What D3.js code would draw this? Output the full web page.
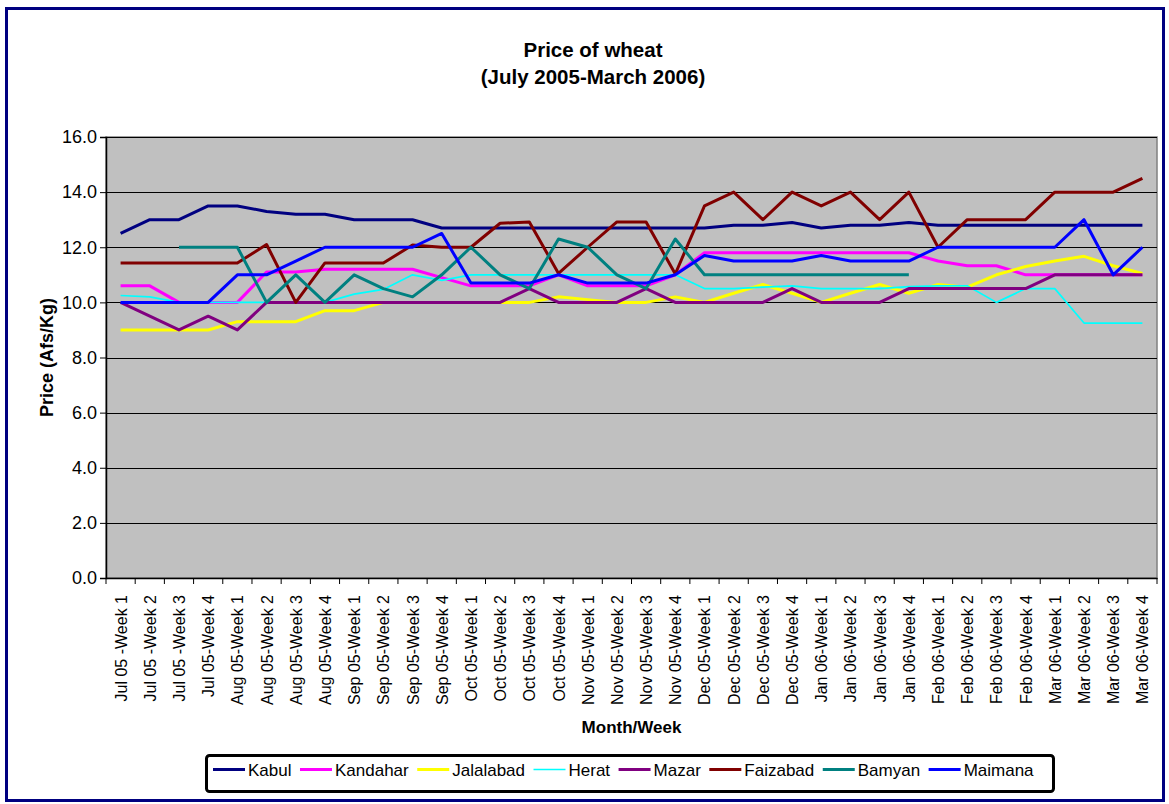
<!DOCTYPE html>
<html>
<head>
<meta charset="utf-8">
<script src="https://cdn.jsdelivr.net/npm/d3@7"></script>
<style>
  body { margin: 0; background: #fff; }
  svg { display: block; font-family: "Liberation Sans", Arial, sans-serif; }
</style>
</head>
<body>
<svg id="chart" width="1169" height="804"></svg>
<script>
// weeks on the x axis
var weeks = [
  "Jul 05 -Week 1", "Jul 05 -Week 2", "Jul 05 -Week 3", "Jul 05-Week 4",
  "Aug 05-Week 1", "Aug 05-Week 2", "Aug 05-Week 3", "Aug 05-Week 4",
  "Sep 05-Week 1", "Sep 05-Week 2", "Sep 05-Week 3", "Sep 05-Week 4",
  "Oct 05-Week 1", "Oct 05-Week 2", "Oct 05-Week 3", "Oct 05-Week 4",
  "Nov 05-Week 1", "Nov 05-Week 2", "Nov 05-Week 3", "Nov 05-Week 4",
  "Dec 05-Week 1", "Dec 05-Week 2", "Dec 05-Week 3", "Dec 05-Week 4",
  "Jan 06-Week 1", "Jan 06-Week 2", "Jan 06-Week 3", "Jan 06-Week 4",
  "Feb 06-Week 1", "Feb 06-Week 2", "Feb 06-Week 3", "Feb 06-Week 4",
  "Mar 06-Week 1", "Mar 06-Week 2", "Mar 06-Week 3", "Mar 06-Week 4"
];

// prices per city (Afs/Kg)
var kabul = [12.5, 13, 13, 13.5, 13.5, 13.3, 13.2, 13.2, 13, 13, 13, 12.7,
  12.7, 12.7, 12.7, 12.7, 12.7, 12.7, 12.7, 12.7, 12.7, 12.8, 12.8, 12.9,
  12.7, 12.8, 12.8, 12.9, 12.8, 12.8, 12.8, 12.8, 12.8, 12.8, 12.8, 12.8];
var kandahar = [10.6, 10.6, 10, 10, 10, 11.1, 11.1, 11.2, 11.2, 11.2, 11.2, 10.9,
  10.6, 10.6, 10.6, 11, 10.6, 10.6, 10.6, 11, 11.8, 11.8, 11.8, 11.8,
  11.8, 11.8, 11.8, 11.8, 11.5, 11.33, 11.33, 11, 11, 11, 11, 11];
var jalalabad = [9, 9, 9, 9, 9.3, 9.3, 9.3, 9.7, 9.7, 10, 10, 10,
  10, 10, 10, 10.2, 10.1, 10, 10, 10.2, 10, 10.33, 10.65, 10.33,
  10, 10.33, 10.65, 10.33, 10.65, 10.55, 11, 11.3, 11.5, 11.67, 11.33, 11.05];
var herat = [10.25, 10.2, 10, 10, 10, 10, 10, 10, 10.3, 10.47, 11, 10.8,
  11, 11, 11, 11, 11, 11, 11, 11, 10.5, 10.5, 10.55, 10.6,
  10.5, 10.5, 10.5, 10.57, 10.6, 10.6, 10, 10.5, 10.5, 9.25, 9.25, 9.25];
var mazar = [10, 9.5, 9, 9.5, 9, 10, 10, 10, 10, 10, 10, 10,
  10, 10, 10.5, 10, 10, 10, 10.5, 10, 10, 10, 10, 10.5,
  10, 10, 10, 10.5, 10.5, 10.5, 10.5, 10.5, 11, 11, 11, 11];
var faizabad = [11.43, 11.43, 11.43, 11.43, 11.43, 12.1, 10, 11.43, 11.43, 11.43, 12.08, 12,
  12, 12.87, 12.92, 11.05, 12, 12.92, 12.92, 11.03, 13.5, 14, 13, 14,
  13.5, 14, 13, 14, 12, 13, 13, 13, 14, 14, 14, 14.5];
var bamyan = [null, null, 12, 12, 12, 10, 11, 10, 11, 10.5, 10.2, 11,
  12, 11, 10.5, 12.3, 12, 11, 10.5, 12.3, 11, 11, 11, 11,
  11, 11, 11, 11, null, null, null, null, null, null, null, null];
var maimana = [10, 10, 10, 10, 11, 11, 11.5, 12, 12, 12, 12, 12.5,
  10.7, 10.7, 10.7, 11, 10.7, 10.7, 10.7, 11, 11.7, 11.5, 11.5, 11.5,
  11.7, 11.5, 11.5, 11.5, 12, 12, 12, 12, 12, 13, 11, 12];

var cities = ["Kabul", "Kandahar", "Jalalabad", "Herat", "Mazar", "Faizabad", "Bamyan", "Maimana"];
var cityValues = [kabul, kandahar, jalalabad, herat, mazar, faizabad, bamyan, maimana];
var cityColors = ["#000080", "#FF00FF", "#FFFF00", "#00FFFF", "#800080", "#800000", "#008080", "#0000FF"];
var yTicks = [0, 2, 4, 6, 8, 10, 12, 14, 16];

var svg = d3.select("#chart");
var plot = {left: 106, right: 1157, top: 137, bottom: 578};

// outer frame
svg.append("rect")
  .attr("x", 6.5).attr("y", 8.5)
  .attr("width", 1157).attr("height", 792)
  .attr("fill", "none")
  .attr("stroke", "#000080")
  .attr("stroke-width", 3);

// title
var title = svg.append("text")
  .attr("text-anchor", "middle")
  .attr("font-weight", "bold")
  .attr("font-size", 20.5);
title.append("tspan").attr("x", 593).attr("y", 57).text("Price of wheat");
title.append("tspan").attr("x", 593).attr("y", 84).text("(July 2005-March 2006)");

var x = d3.scaleBand().domain(weeks).range([plot.left, plot.right]).padding(0);
var y = d3.scaleLinear().domain([0, 16]).range([plot.bottom, plot.top]);

// plot background
svg.append("rect")
  .attr("x", plot.left).attr("y", plot.top)
  .attr("width", plot.right - plot.left).attr("height", plot.bottom - plot.top)
  .attr("fill", "#C0C0C0")
  .attr("stroke", "#808080")
  .attr("stroke-width", 1.5);

// gridlines
svg.append("g")
  .selectAll("line")
  .data(yTicks.slice(1))
  .enter().append("line")
  .attr("x1", plot.left).attr("x2", plot.right)
  .attr("y1", function(d) { return Math.round(y(d)) + 0.5; })
  .attr("y2", function(d) { return Math.round(y(d)) + 0.5; })
  .attr("stroke", "#000")
  .attr("stroke-width", 1);

// y axis
var yAxis = svg.append("g")
  .attr("transform", "translate(" + plot.left + ",0)")
  .call(d3.axisLeft(y).tickValues(yTicks).tickFormat(d3.format(".1f")).tickSize(6).tickPadding(3));
yAxis.selectAll("text").attr("font-size", 18).attr("fill", "#000").attr("font-family", null);
yAxis.selectAll("line, path").attr("stroke", "#000");
yAxis.select(".domain").attr("stroke-width", 1.5);

// x axis: ticks between categories, labels at centers
var xAxis = svg.append("g")
  .attr("transform", "translate(0," + plot.bottom + ")")
  .call(d3.axisBottom(x).tickSize(0).tickPadding(0));
xAxis.select(".domain").attr("stroke", "#000").attr("stroke-width", 1.5);
xAxis.selectAll("text")
  .attr("font-size", 16)
  .attr("font-family", null)
  .attr("fill", "#000")
  .attr("text-anchor", "end")
  .attr("dy", null)
  .attr("transform", "translate(6,17) rotate(-90)")
  .attr("y", 0).attr("x", 0);
var bounds = weeks.map(function(w) { return x(w); }).concat([plot.right]);
xAxis.selectAll(".bound")
  .data(bounds)
  .enter().append("line")
  .attr("class", "bound")
  .attr("x1", function(d) { return d; }).attr("x2", function(d) { return d; })
  .attr("y1", 0).attr("y2", 6)
  .attr("stroke", "#000");

// axis titles
svg.append("text")
  .attr("x", (plot.left + plot.right) / 2).attr("y", 733)
  .attr("text-anchor", "middle")
  .attr("font-weight", "bold")
  .attr("font-size", 17)
  .text("Month/Week");
svg.append("text")
  .attr("transform", "translate(53," + (plot.top + plot.bottom) / 2 + ") rotate(-90)")
  .attr("text-anchor", "middle")
  .attr("font-weight", "bold")
  .attr("font-size", 18)
  .text("Price (Afs/Kg)");

// lines
var line = d3.line()
  .defined(function(d) { return d.v != null; })
  .x(function(d) { return x(d.w) + x.bandwidth() / 2; })
  .y(function(d) { return y(d.v); });

cities.forEach(function(city, k) {
  var pts = weeks.map(function(w, i) { return {w: w, v: cityValues[k][i]}; });
  svg.append("path")
    .datum(pts)
    .attr("fill", "none")
    .attr("stroke", cityColors[k])
    .attr("stroke-width", city === "Herat" ? 1.7 : 3)
    .attr("stroke-linejoin", "round")
    .attr("d", line);
});

// legend
svg.append("rect")
  .attr("x", 206.5).attr("y", 755.5)
  .attr("width", 847).attr("height", 36)
  .attr("fill", "#fff")
  .attr("stroke", "#000")
  .attr("stroke-width", 3)
  .attr("rx", 3);

var cursor = 213;
cities.forEach(function(city, k) {
  svg.append("line")
    .attr("x1", cursor).attr("x2", cursor + 32)
    .attr("y1", 769.5).attr("y2", 769.5)
    .attr("stroke", cityColors[k])
    .attr("stroke-width", city === "Herat" ? 1.7 : 3);
  var t = svg.append("text")
    .attr("x", cursor + 35).attr("y", 776)
    .attr("font-size", 17)
    .text(city);
  cursor += 35 + t.node().getComputedTextLength() + 8.5;
});
</script>
</body>
</html>
